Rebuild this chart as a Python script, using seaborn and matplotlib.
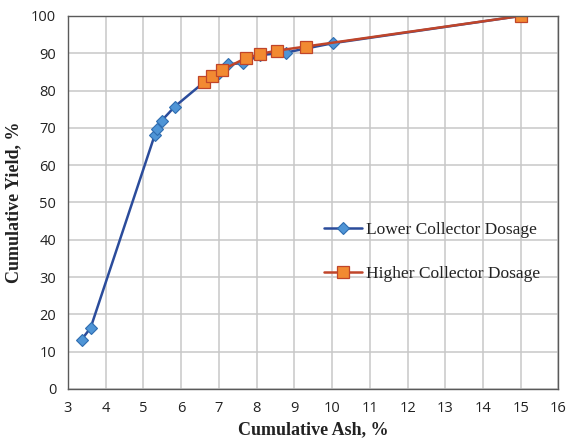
import matplotlib
matplotlib.use("Agg")
import matplotlib.pyplot as plt
import seaborn as sns
import pandas as pd

lower_ash = [3.36, 3.60, 5.30, 5.36, 5.48, 5.83, 6.60, 7.00, 7.24, 7.64, 8.10, 8.78, 10.02, 15.0]
lower_yield = [13.2, 16.4, 68.1, 69.6, 71.9, 75.7, 82.2, 84.8, 87.0, 87.4, 89.5, 90.2, 92.7, 100.0]

higher_ash = [6.60, 6.83, 7.08, 7.71, 8.08, 8.54, 9.30, 15.0]
higher_yield = [82.4, 83.9, 85.5, 88.7, 89.8, 90.7, 91.8, 100.0]

x_ticks = list(range(3, 17))
y_ticks = list(range(0, 101, 10))

sns.set_theme(style="whitegrid")
fig = plt.figure(figsize=(5.69, 4.43), dpi=100)
ax = fig.add_axes([0.1195, 0.122, 0.862, 0.842])

df_low = pd.DataFrame({"ash": lower_ash, "yield": lower_yield})
df_high = pd.DataFrame({"ash": higher_ash, "yield": higher_yield})

sns.lineplot(data=df_low, x="ash", y="yield", ax=ax, sort=False, color="#2B4C9B",
             lw=1.8, marker="D", markersize=6, markerfacecolor="#4F95D6",
             markeredgecolor="#2F6DB0", markeredgewidth=0.8,
             label="Lower Collector Dosage")
sns.lineplot(data=df_high, x="ash", y="yield", ax=ax, sort=False, color="#C0452A",
             lw=1.8, marker="s", markersize=9, markerfacecolor="#F28A32",
             markeredgecolor="#C0452A", markeredgewidth=0.9,
             label="Higher Collector Dosage")

ax.set_xlim(3, 16)
ax.set_ylim(0, 100)
ax.set_xticks(x_ticks)
ax.set_yticks(y_ticks)
ax.grid(True, color="#C8C8C8", lw=1.1)
for s in ax.spines.values():
    s.set_visible(True)
    s.set_color("#5A5A5A")
    s.set_linewidth(1.0)
ax.tick_params(axis="both", direction="inout", length=7, width=1, color="#5A5A5A",
               labelsize=10.5, labelcolor="#222222", pad=5)
for lab in ax.get_xticklabels() + ax.get_yticklabels():
    lab.set_family("Open Sans")

ax.set_xlabel("Cumulative Ash, %", family="Liberation Serif", fontsize=13,
              fontweight="bold", color="#222222", labelpad=4)
ax.set_ylabel("Cumulative Yield, %", family="Liberation Serif", fontsize=13,
              fontweight="bold", color="#222222", labelpad=6)

leg = ax.legend(loc="upper left", bbox_to_anchor=(0.49, 0.49), frameon=False,
                prop={"family": "Liberation Serif", "size": 12.5},
                labelspacing=1.6, handlelength=2.2, handletextpad=0.2)
for t in leg.get_texts():
    t.set_color("#222222")

fig.savefig("out.png", dpi=100)
